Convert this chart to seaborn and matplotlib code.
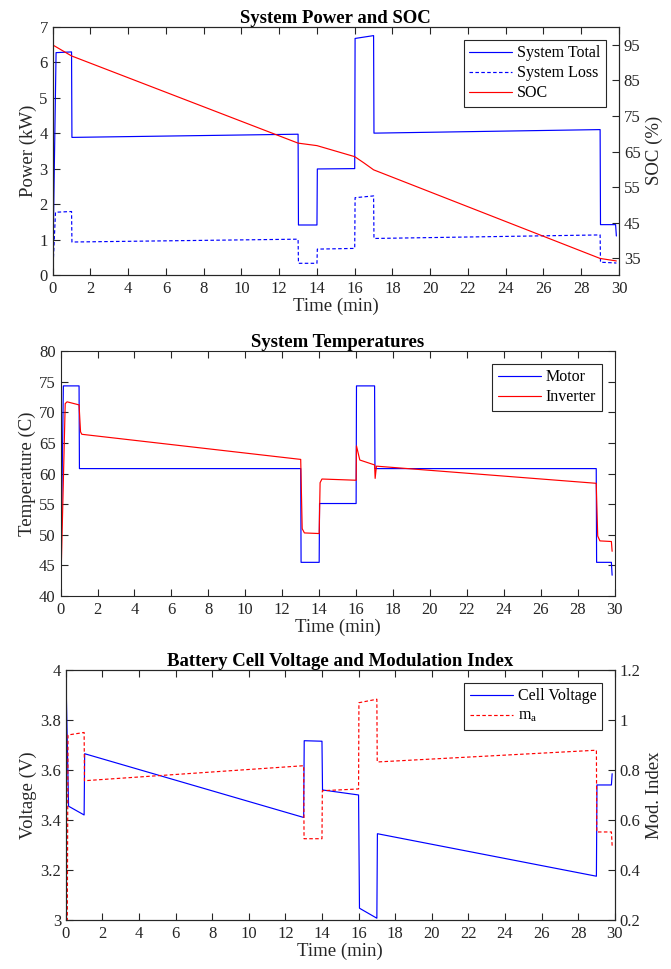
import matplotlib
matplotlib.use("Agg")
import matplotlib.pyplot as plt
from matplotlib.ticker import FuncFormatter
import seaborn as sns

# ---------------------------------------------------------------------------
# breakpoints (time in min)
T_TOTAL = [0, 0.18, 1.0, 1.02, 13.0, 13.02, 14.0, 14.02, 16.0, 16.02, 17.0, 17.02, 29.0, 29.02, 29.82, 29.86]
P_TOTAL = [0, 6.27, 6.29, 3.88, 3.97, 1.41, 1.41, 2.99, 3.00, 6.67, 6.75, 4.00, 4.10, 1.42, 1.42, 1.10]

T_LOSS = [0, 0.15, 1.0, 1.02, 13.0, 13.02, 14.0, 14.02, 16.0, 16.02, 17.0, 17.02, 29.0, 29.02, 29.82, 29.86]
P_LOSS = [0, 1.77, 1.79, 0.93, 1.01, 0.33, 0.33, 0.73, 0.75, 2.18, 2.23, 1.03, 1.13, 0.36, 0.34, 0.33]

T_SOC = [0, 1.0, 13.0, 14.0, 16.0, 16.5, 17.0, 29.0, 29.86]
SOC = [95.0, 91.9, 67.4, 66.7, 63.6, 61.8, 59.9, 35.0, 34.3]

T_MOTOR = [0, 0.15, 1.0, 1.02, 13.0, 13.02, 14.0, 14.02, 16.0, 16.02, 17.0, 17.02, 29.0, 29.02, 29.82, 29.86]
MOTOR = [40, 74.3, 74.3, 60.8, 60.8, 45.5, 45.5, 55.1, 55.1, 74.3, 74.3, 60.8, 60.8, 45.5, 45.5, 43.4]

T_INV = [0, 0.25, 0.35, 1.0, 1.08, 1.15, 13.0, 13.08, 13.2, 14.0, 14.05, 14.15, 16.0, 16.02, 16.2,
         17.0, 17.03, 17.1, 29.0, 29.08, 29.2, 29.82, 29.86]
INVERTER = [40, 71.4, 71.7, 71.2, 66.8, 66.4, 62.3, 51.0, 50.3, 50.2, 58.5, 59.1, 58.9, 64.5, 62.2,
            61.4, 59.2, 61.2, 58.4, 49.8, 49.0, 48.9, 47.3]

T_VOLT = [0, 0.15, 1.0, 1.03, 13.0, 13.03, 14.0, 14.03, 16.0, 16.05, 17.0, 17.03, 29.0, 29.03, 29.82, 29.86]
VOLT = [4.0, 3.455, 3.42, 3.665, 3.41, 3.717, 3.715, 3.52, 3.50, 3.047, 3.007, 3.345, 3.175, 3.54, 3.54, 3.585]

T_MA = [0, 0.08, 0.12, 1.0, 1.02, 13.0, 13.02, 14.0, 14.02, 16.0, 16.02, 17.0, 17.02, 29.0, 29.02, 29.82, 29.86]
MA = [0.2, 0.2, 0.94, 0.95, 0.757, 0.817, 0.525, 0.525, 0.717, 0.724, 1.069, 1.083, 0.832, 0.879, 0.552, 0.552, 0.497]

X_TICKS = list(range(0, 31, 2))

# ---------------------------------------------------------------------------
sns.set_theme(style="ticks")
plt.rcParams["font.family"] = ["Liberation Serif", "DejaVu Serif"]
plt.rcParams["mathtext.fontset"] = "stix"
AX_COLOR = "#262626"
plt.rcParams.update({
    "axes.edgecolor": AX_COLOR, "axes.linewidth": 0.8,
    "xtick.color": AX_COLOR, "ytick.color": AX_COLOR,
    "xtick.direction": "in", "ytick.direction": "in",
    "xtick.major.size": 5, "ytick.major.size": 5,
    "xtick.major.width": 0.8, "ytick.major.width": 0.8,
    "xtick.labelsize": 12, "ytick.labelsize": 12,
    "axes.labelsize": 13.5, "axes.titlesize": 13.5,
    "axes.labelcolor": AX_COLOR, "text.color": AX_COLOR,
})

LW = 0.85
BLUE = "#0000ff"
RED = "#ff0000"
fmt_g = FuncFormatter(lambda v, _: f"{v:g}")

fig = plt.figure(figsize=(6.71, 9.69), dpi=100)
ax1 = fig.add_axes([0.0785, 0.7162, 0.844, 0.2562])
ax2 = fig.add_axes([0.0903, 0.3849, 0.8258, 0.2529])
ax3 = fig.add_axes([0.0981, 0.0506, 0.818, 0.258])


def style_x(ax):
    ax.set_xlim(0, 30)
    ax.set_xticks(X_TICKS)
    ax.set_xlabel("Time (min)", labelpad=1)
    ax.tick_params(axis="x", top=True, pad=4)


def add_legend(ax, handles, labels):
    leg = ax.legend(handles, labels, loc="upper right", fontsize=11.5,
                    fancybox=False, framealpha=1, edgecolor=AX_COLOR,
                    borderaxespad=0.8, handlelength=2.7, handletextpad=0.3,
                    labelspacing=0.25, borderpad=0.35)
    leg.get_frame().set_linewidth(0.8)
    for t in leg.get_texts():
        t.set_color("black")


# --- System Power and SOC --------------------------------------------------
sns.lineplot(x=T_TOTAL, y=P_TOTAL, ax=ax1, color=BLUE, linewidth=LW, sort=False, estimator=None)
sns.lineplot(x=T_LOSS, y=P_LOSS, ax=ax1, color=BLUE, linewidth=LW, linestyle=(0, (3, 2)),
             sort=False, estimator=None)
ax1.set_ylim(0, 7)
ax1.set_ylabel("Power (kW)", labelpad=2)
ax1.set_title("System Power and SOC", fontweight="bold", pad=3, color="black")
style_x(ax1)
ax1r = ax1.twinx()
sns.lineplot(x=T_SOC, y=SOC, ax=ax1r, color=RED, linewidth=LW, sort=False, estimator=None)
ax1r.set_ylim(30.35, 100.1)
ax1r.set_yticks([35, 45, 55, 65, 75, 85, 95])
ax1r.set_ylabel("SOC (%)", labelpad=4)
add_legend(ax1r, ax1.get_lines() + ax1r.get_lines(), ["System Total", "System Loss", "SOC"])

# --- System Temperatures -----------------------------------------------------
sns.lineplot(x=T_MOTOR, y=MOTOR, ax=ax2, color=BLUE, linewidth=LW, sort=False, estimator=None)
sns.lineplot(x=T_INV, y=INVERTER, ax=ax2, color=RED, linewidth=LW, sort=False, estimator=None)
ax2.set_ylim(40, 80)
ax2.set_yticks(range(40, 81, 5))
ax2.set_ylabel("Temperature (C)", labelpad=2)
ax2.set_title("System Temperatures", fontweight="bold", pad=3, color="black")
ax2.tick_params(axis="y", right=True)
style_x(ax2)
add_legend(ax2, ax2.get_lines(), ["Motor", "Inverter"])

# --- Battery Cell Voltage and Modulation Index ----------------------------
sns.lineplot(x=T_VOLT, y=VOLT, ax=ax3, color=BLUE, linewidth=LW, sort=False, estimator=None)
ax3.set_ylim(3, 4)
ax3.set_yticks([3, 3.2, 3.4, 3.6, 3.8, 4])
ax3.yaxis.set_major_formatter(fmt_g)
ax3.set_ylabel("Voltage (V)", labelpad=2)
ax3.set_title("Battery Cell Voltage and Modulation Index", fontweight="bold", pad=3, color="black")
style_x(ax3)
ax3r = ax3.twinx()
sns.lineplot(x=T_MA, y=MA, ax=ax3r, color=RED, linewidth=LW, linestyle=(0, (3, 2)),
             sort=False, estimator=None)
ax3r.set_ylim(0.2, 1.2)
ax3r.set_yticks([0.2, 0.4, 0.6, 0.8, 1.0, 1.2])
ax3r.yaxis.set_major_formatter(fmt_g)
ax3r.set_ylabel("Mod. Index", labelpad=4)
add_legend(ax3r, ax3.get_lines() + ax3r.get_lines(), ["Cell Voltage", r"m$_\mathregular{a}$"])

for ax in (ax1, ax1r, ax2, ax3, ax3r):
    for s in ax.spines.values():
        s.set_visible(True)
        s.set_color(AX_COLOR)

fig.savefig("out.png", dpi=100, facecolor="white")
